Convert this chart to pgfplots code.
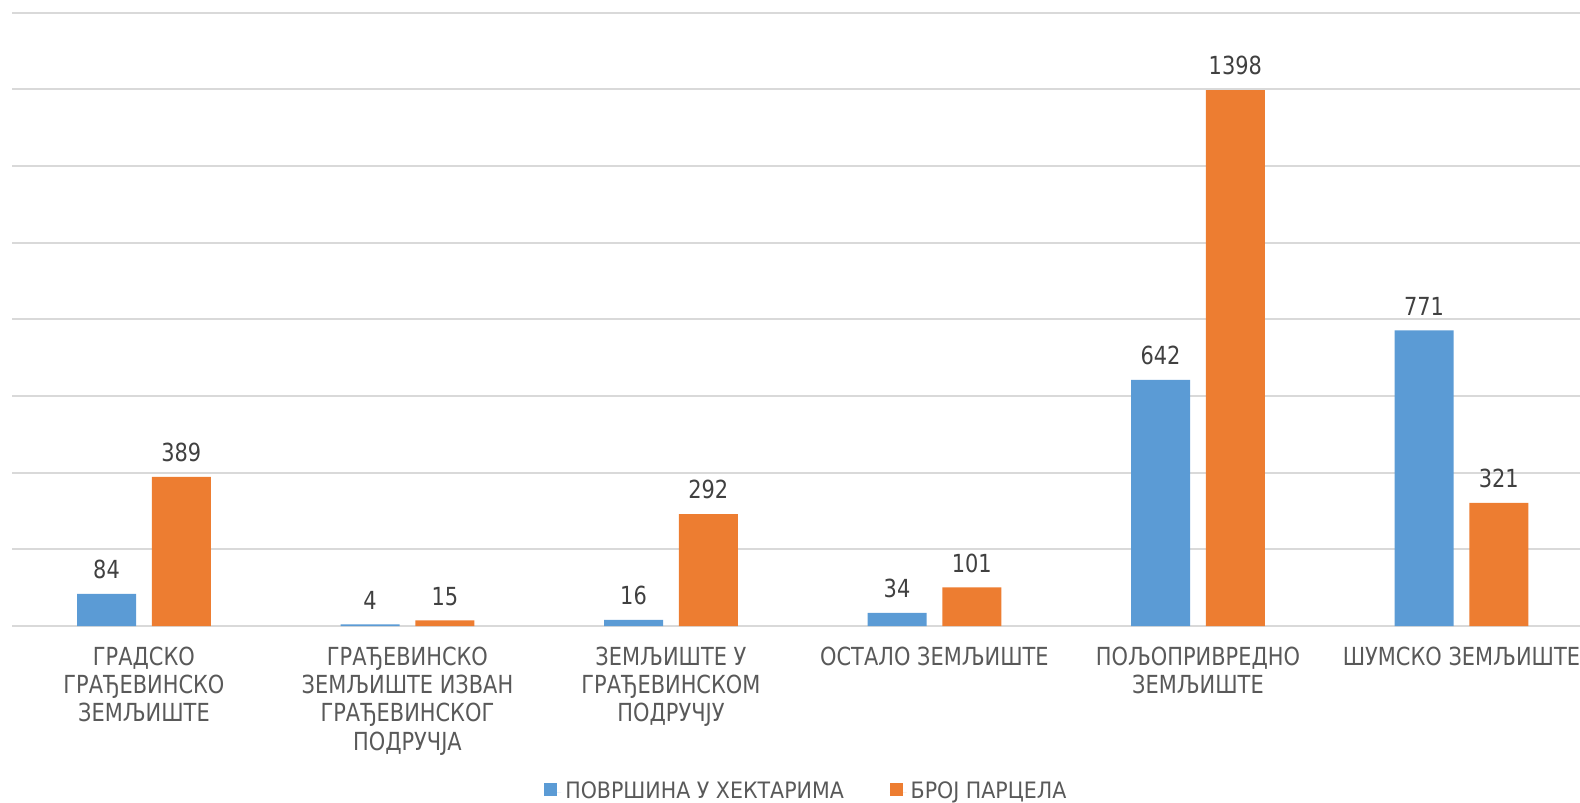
\documentclass[border=0pt]{standalone}
\usepackage{pgfplots}
\pgfplotsset{compat=1.18}
\usepackage{fontspec}
\setmainfont{DejaVu Sans}[FakeStretch=0.84]
\newfontfamily\legfont{DejaVu Sans}[FakeStretch=0.91]

\definecolor{cblue}{HTML}{5B9BD5}
\definecolor{corange}{HTML}{ED7D31}
\definecolor{cgrid}{HTML}{D9D9D9}
\definecolor{ctext}{HTML}{595959}
\definecolor{cval}{HTML}{404040}

\begin{document}
\begin{tikzpicture}
\begin{axis}[
  name=ax,
  scale only axis,
  width=790.5pt, height=306.7pt,
  xmin=-0.5, xmax=5.5,
  ymin=0, ymax=1600,
  ybar=7.9pt, bar width=29.5pt,
  xtick={0,...,5},
  xticklabels={
    {ГРАДСКО\\ГРАЂЕВИНСКО\\ЗЕМЉИШТЕ},
    {ГРАЂЕВИНСКО\\ЗЕМЉИШТЕ ИЗВАН\\ГРАЂЕВИНСКОГ\\ПОДРУЧЈА},
    {ЗЕМЉИШТЕ У\\ГРАЂЕВИНСКОМ\\ПОДРУЧЈУ},
    {ОСТАЛО ЗЕМЉИШТЕ},
    {ПОЉОПРИВРЕДНО\\ЗЕМЉИШТЕ},
    {ШУМСКО ЗЕМЉИШТЕ}},
  xticklabel style={align=center, font=\fontsize{12.45}{14.1}\selectfont,
    text=ctext, yshift=-7pt},
  ytick={0,200,...,1600}, yticklabels={},
  major tick length=0pt,
  ymajorgrids, grid style={cgrid, line width=1pt},
  axis line style={draw=none},
  /pgf/number format/1000 sep={},
  /pgf/number format/assume math mode=true,
  nodes near coords,
  nodes near coords style={font=\fontsize{12.45}{14}\selectfont,
    text=cval, yshift=3.9pt},
  legend columns=2,
  legend style={at={(0.503,0)}, anchor=center, yshift=-83pt,
    draw=none, fill=none, font=\legfont\fontsize{11.3}{13}\selectfont,
    text=ctext,
    /tikz/every even column/.append style={column sep=21pt}},
  legend image code/.code={%
    \fill[#1] (0pt,-2.1pt) rectangle (6.4pt,4.3pt);
    \path (0pt,0pt) -- (8.4pt,0pt);},
]
\addplot[fill=cblue, draw=none] coordinates {
  (0,84) (1,4) (2,16) (3,34) (4,642) (5,771)
};
\addlegendentry{ПОВРШИНА У ХЕКТАРИМА}
\addplot[fill=corange, draw=none] coordinates {
  (0,389) (1,15) (2,292) (3,101) (4,1398) (5,321)
};
\addlegendentry{БРОЈ ПАРЦЕЛА}
\end{axis}
\pgfresetboundingbox
\path[use as bounding box] ([shift={(-6.1pt,-88.5pt)}]ax.south west)
  rectangle ([shift={(783.9pt,313pt)}]ax.south west);
\end{tikzpicture}
\end{document}
